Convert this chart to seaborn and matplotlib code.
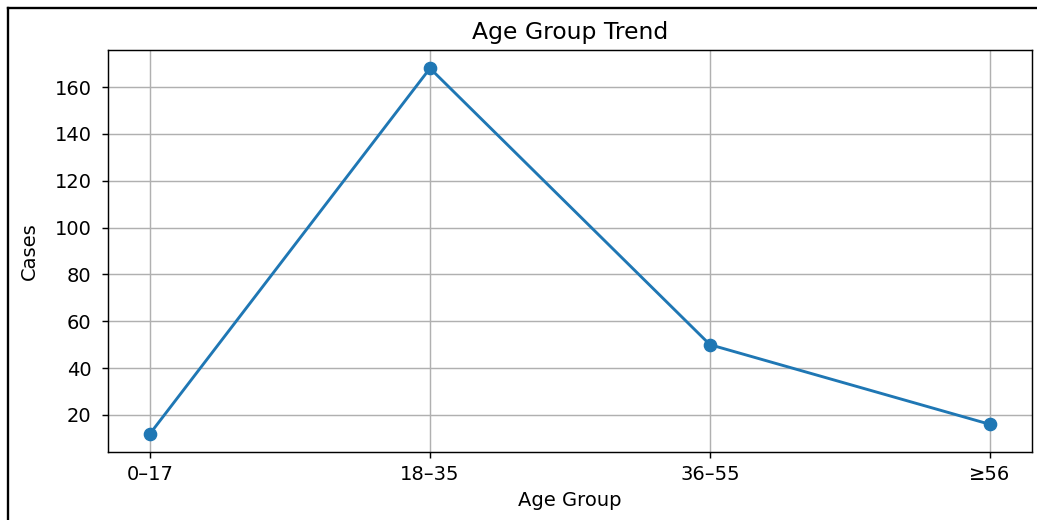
import matplotlib
matplotlib.use('Agg')
import matplotlib.pyplot as plt
from matplotlib.lines import Line2D
import pandas as pd
import seaborn as sns

# Cases per age group
age_groups = ['0\u201317', '18\u201335', '36\u201355', '\u226556']
cases = [12, 168, 50, 16]

df = pd.DataFrame({'Age Group': age_groups, 'Cases': cases})

fig = plt.figure(figsize=(1037 / 130, 520 / 130), dpi=130)
ax = fig.add_axes([108 / 1037, 1 - 452 / 520, 924 / 1037, 402 / 520])

sns.lineplot(data=df, x='Age Group', y='Cases', sort=False, marker='o',
             color='#1f77b4', markeredgecolor='#1f77b4', markersize=6.8,
             linewidth=1.6, ax=ax)
ax.set_title('Age Group Trend', fontsize=13, pad=6)
ax.set_xlabel('Age Group', fontsize=10.8)
ax.set_ylabel('Cases', fontsize=10.8, labelpad=9)
ax.tick_params(labelsize=10.8)
ax.tick_params(axis='y', pad=5.5)
ax.grid(True)
ax.set_axisbelow(True)

# black frame around the screenshot (only left/top visible)
fig.add_artist(Line2D([8 / 1037, 8 / 1037], [0, 1 - 7.5 / 520],
                      transform=fig.transFigure, color='black', lw=1.3))
fig.add_artist(Line2D([8 / 1037, 1], [1 - 7.5 / 520, 1 - 7.5 / 520],
                      transform=fig.transFigure, color='black', lw=1.3))

fig.savefig('out.png', dpi=130)
